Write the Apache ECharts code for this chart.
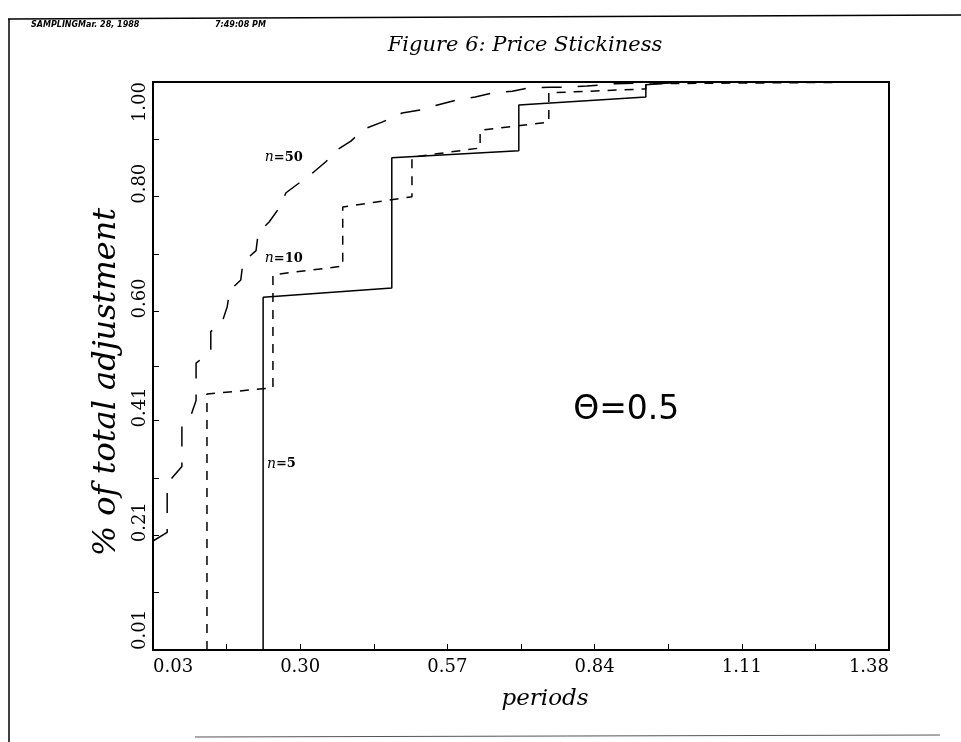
<!DOCTYPE html>
<html>
<head>
<meta charset="utf-8">
<script src="https://cdn.jsdelivr.net/npm/echarts@6/dist/echarts.min.js"></script>
<style>
  html, body { margin: 0; padding: 0; background: #fff; }
  #chart { width: 961px; height: 742px; }
</style>
</head>
<body>
<div id="chart"></div>
<script>
// Axis tick labels
const xTickLabels = [0.03, 0.30, 0.57, 0.84, 1.11, 1.38];
const yTickLabels = [0.01, 0.21, 0.41, 0.60, 0.80, 1.00];

// n = 5 (solid step curve)
const n5X = [0.232, 0.232, 0.468, 0.468, 0.701, 0.701, 0.934, 0.934, 1.00, 1.38];
const n5Y = [0.010, 0.625, 0.641, 0.868, 0.880, 0.960, 0.974, 0.995, 1.000, 1.000];

// n = 10 (short-dashed step curve)
const n10X = [0.129, 0.129, 0.250, 0.250, 0.378, 0.378, 0.505, 0.505, 0.630, 0.630, 0.756, 0.756, 0.934, 0.934, 1.38];
const n10Y = [0.010, 0.456, 0.467, 0.664, 0.679, 0.782, 0.800, 0.869, 0.885, 0.916, 0.930, 0.981, 0.988, 0.997, 1.000];

// n = 50 (long-dashed step curve)
const n50X = [0.030, 0.056, 0.056, 0.083, 0.083, 0.100, 0.109, 0.109, 0.136, 0.136, 0.157, 0.166, 0.171, 0.191, 0.195, 0.219, 0.223, 0.243, 0.261, 0.274, 0.298, 0.322, 0.347, 0.368, 0.393, 0.417, 0.450, 0.487, 0.520, 0.552, 0.588, 0.621, 0.654, 0.689, 0.722, 0.758, 0.791, 0.826, 0.877, 1.030, 1.380];
const n50Y = [0.200, 0.215, 0.300, 0.330, 0.400, 0.420, 0.445, 0.510, 0.530, 0.565, 0.582, 0.608, 0.637, 0.655, 0.686, 0.706, 0.737, 0.756, 0.780, 0.807, 0.824, 0.841, 0.861, 0.882, 0.897, 0.918, 0.930, 0.946, 0.951, 0.960, 0.969, 0.974, 0.981, 0.984, 0.990, 0.991, 0.991, 0.993, 0.997, 1.000, 1.000];

// Curve annotations: [text, x, y]
const curveNotes = [
  ['50', 0.235, 0.868],
  ['10', 0.235, 0.693],
  ['5', 0.239, 0.334]
];
const thetaNote = ['\u0398=0.5', 0.898, 0.427];

const zip = (xs, ys) => xs.map((x, i) => [x, ys[i]]);

// Tick marks halfway between labelled values
function withMidpoints(vals) {
  const out = [];
  for (let i = 0; i < vals.length; i++) {
    out.push(vals[i]);
    if (i < vals.length - 1) out.push((vals[i] + vals[i + 1]) / 2);
  }
  return out;
}

const serif = '"DejaVu Serif", "Liberation Serif", serif';

const noteLabel = {
  show: true,
  position: 'right',
  distance: 0,
  color: '#000',
  rich: {
    i: { fontFamily: serif, fontStyle: 'italic', fontSize: 14, color: '#000' },
    r: { fontFamily: serif, fontSize: 13, fontWeight: 'bold', color: '#000' }
  }
};

function notePoint(note) {
  return {
    coord: [note[1], note[2]],
    symbolSize: 0,
    label: Object.assign({}, noteLabel, { formatter: '{i|n}{r|=' + note[0] + '}' })
  };
}

const yFirst = yTickLabels[0];
const yLast = yTickLabels[yTickLabels.length - 1];

const chart = echarts.init(document.getElementById('chart'));

chart.setOption({
  animation: false,
  backgroundColor: '#fff',
  title: {
    text: 'Figure 6: Price Stickiness',
    left: 520,
    top: 30,
    textAlign: 'center',
    textStyle: { fontFamily: serif, fontStyle: 'italic', fontWeight: 'normal', fontSize: 21, color: '#000' }
  },
  grid: {
    left: 153, right: 72, top: 82, bottom: 92,
    show: true, borderColor: '#000', borderWidth: 2, backgroundColor: 'transparent'
  },
  xAxis: {
    type: 'value',
    min: xTickLabels[0],
    max: xTickLabels[xTickLabels.length - 1],
    name: 'periods',
    nameLocation: 'middle',
    nameGap: 38,
    nameTextStyle: { fontFamily: serif, fontStyle: 'italic', fontSize: 23, color: '#000', padding: [0, 0, 0, 48] },
    axisLine: { show: true, lineStyle: { color: '#000', width: 2 } },
    axisTick: { show: true, inside: true, length: 6, customValues: withMidpoints(xTickLabels), lineStyle: { color: '#000', width: 1 } },
    axisLabel: {
      customValues: xTickLabels,
      formatter: v => v.toFixed(2),
      alignMinLabel: 'left',
      alignMaxLabel: 'right',
      fontFamily: serif, fontSize: 18, color: '#000', margin: 8
    },
    splitLine: { show: false }
  },
  yAxis: {
    type: 'value',
    min: yFirst,
    max: yLast,
    name: '% of total adjustment',
    nameLocation: 'middle',
    nameRotate: 90,
    nameGap: 26,
    nameTextStyle: { fontFamily: serif, fontStyle: 'italic', fontSize: 32, color: '#000', padding: [0, 32, 0, 0] },
    axisLine: { show: true, lineStyle: { color: '#000', width: 2 } },
    axisTick: { show: true, inside: true, length: 6, customValues: withMidpoints(yTickLabels), lineStyle: { color: '#000', width: 1 } },
    axisLabel: {
      customValues: yTickLabels,
      formatter: v => {
        const s = v.toFixed(2);
        return (Math.abs(v - yFirst) < 1e-9 || Math.abs(v - yLast) < 1e-9) ? s : '{m|' + s + '}';
      },
      rich: { m: { fontFamily: serif, fontSize: 18, color: '#000', padding: [0, 0, 0, 26] } },
      rotate: 90,
      alignMinLabel: 'left',
      alignMaxLabel: 'right',
      fontFamily: serif, fontSize: 18, color: '#000', margin: 4
    },
    splitLine: { show: false }
  },
  series: [
    {
      name: 'n=5',
      type: 'line',
      data: zip(n5X, n5Y),
      showSymbol: false,
      lineStyle: { color: '#000', width: 1.5, type: 'solid' },
      markPoint: {
        symbol: 'circle',
        data: [
          notePoint(curveNotes[2]),
          {
            coord: [thetaNote[1], thetaNote[2]],
            symbolSize: 0,
            label: {
              show: true,
              position: 'inside',
              formatter: thetaNote[0],
              fontFamily: '"DejaVu Sans", "Liberation Sans", sans-serif',
              fontSize: 33,
              color: '#000'
            }
          }
        ]
      }
    },
    {
      name: 'n=10',
      type: 'line',
      data: zip(n10X, n10Y),
      showSymbol: false,
      lineStyle: { color: '#000', width: 1.5, type: [9, 8] },
      markPoint: { symbol: 'circle', data: [notePoint(curveNotes[1])] }
    },
    {
      name: 'n=50',
      type: 'line',
      data: zip(n50X, n50Y),
      showSymbol: false,
      lineStyle: { color: '#000', width: 1.5, type: [20, 16] },
      markPoint: { symbol: 'circle', data: [notePoint(curveNotes[0])] }
    }
  ],
  graphic: [
    // page frame
    { type: 'line', shape: { x1: 8, y1: 19, x2: 961, y2: 15 }, style: { stroke: '#000', lineWidth: 1.5 } },
    { type: 'line', shape: { x1: 9, y1: 19, x2: 9, y2: 742 }, style: { stroke: '#000', lineWidth: 1.5 } },
    { type: 'line', shape: { x1: 195, y1: 737, x2: 940, y2: 735 }, style: { stroke: '#555', lineWidth: 1 } },
    // run header
    {
      type: 'text', left: 31, top: 21,
      style: { text: 'SAMPLINGMar. 28, 1988', fontFamily: '"DejaVu Sans", sans-serif', fontStyle: 'italic', fontWeight: 'bold', fontSize: 8, fill: '#000' }
    },
    {
      type: 'text', left: 215, top: 21,
      style: { text: '7:49:08 PM', fontFamily: '"DejaVu Sans", sans-serif', fontStyle: 'italic', fontWeight: 'bold', fontSize: 8, fill: '#000' }
    }
  ]
});
</script>
</body>
</html>
